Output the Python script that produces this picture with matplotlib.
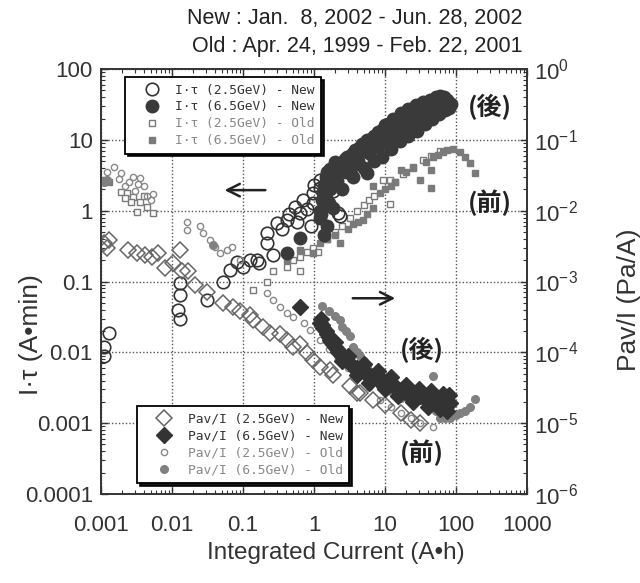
import matplotlib
matplotlib.use("Agg")
import matplotlib.pyplot as plt

plt.rcParams['font.family'] = ['Liberation Sans', 'DejaVu Sans']
plt.rcParams['mathtext.fontset'] = 'custom'
plt.rcParams['mathtext.rm'] = 'Liberation Sans'
plt.rcParams['mathtext.it'] = 'Liberation Sans:italic'

# ---- data (I*tau on left axis, Pav/I on right axis) ----
# I*tau (2.5GeV) - New, open circles
it25_new_x = [0.0011, 0.0011, 0.0013, 0.013, 0.013, 0.012, 0.013, 0.031, 0.052, 0.065, 0.082, 0.1,
              0.125, 0.157, 0.17, 0.22, 0.22, 0.26, 0.30, 0.41, 0.54, 0.57, 0.64, 0.7, 0.8, 0.97,
              0.97, 1.2, 1.2, 1.68, 1.85, 2.2, 2.3, 1.5, 2.0, 2.6, 1.0, 0.45, 0.35, 0.9, 1.4]
it25_new_y = [0.009, 0.012, 0.019, 0.095, 0.065, 0.04, 0.03, 0.055, 0.098, 0.145, 0.19, 0.16,
              0.2, 0.2, 0.18, 0.48, 0.35, 0.24, 0.67, 0.73, 1.12, 0.7, 0.93, 1.4, 1.05, 1.3,
              1.77, 2.1, 2.7, 2.45, 1.9, 0.93, 0.85, 3.2, 3.5, 4.0, 2.3, 0.9, 0.55, 0.6, 1.6]

# I*tau (6.5GeV) - New, filled circles (dense band)
it65_new_x = [0.41, 0.64, 1.2, 1.5, 1.2, 1.3, 1.35, 1.4, 1.5, 1.6, 1.8, 2.0, 2.3, 2.6, 3.0, 3.5,
              4.0, 4.5, 5.0, 5.6, 6.5, 7.5, 8.5, 10, 11.5, 13, 15, 17, 20, 23, 27, 31, 36, 42,
              48, 55, 62, 70, 78, 85,
              1.5, 2.0, 2.9, 3.5, 4.5, 6, 8, 10, 13, 16.5, 21, 27, 34, 43, 52, 60, 68,
              1.6, 1.85, 2.5, 3.5, 5, 7, 9, 12, 16, 21, 28, 36, 46, 58, 70, 80,
              1.45, 1.7, 2.2, 2.7, 3.2, 3.8, 4.8, 5.5, 7, 9, 11, 14, 18, 24, 30, 38, 46, 56, 65, 75,
              1.25, 1.45, 1.7, 2.1, 2.8, 3.3, 4.2, 6, 8, 11, 14, 18, 24, 32, 40, 50, 62, 75,
              5.6, 1.4]
it65_new_y = [0.25, 0.41, 0.8, 0.6, 1.0, 1.4, 1.8, 2.3, 2.7, 3.0, 3.4, 3.8, 4.2, 4.6, 5.2, 5.8,
              6.4, 7.0, 7.6, 8.3, 9.2, 10.2, 11, 12.5, 14, 15.5, 17, 18.5, 20.5, 22, 24, 25.5,
              27, 29, 30.5, 32, 33, 34, 34, 32,
              3.5, 4.8, 5.7, 6.5, 8, 10, 13, 16, 20, 24, 27, 31, 34, 37, 40, 41, 40,
              1.3, 1.1, 2.0, 3.0, 4.0, 5.0, 5.8, 7.5, 9.5, 11.5, 13.5, 17, 20, 23, 26, 28,
              3.0, 3.9, 4.6, 5.4, 6.0, 7.2, 8.8, 9.8, 11.5, 14, 16.5, 19, 22, 26, 29, 32, 35, 37, 38, 37,
              0.9, 1.5, 2.0, 2.6, 3.5, 4.0, 5.0, 6.5, 7.8, 9.5, 11.5, 13.5, 16, 19, 22, 25, 28, 29,
              3.4, 0.45]

# I*tau (2.5GeV) - Old, small open squares
it25_old_x = [0.0019, 0.0023, 0.0028, 0.0026, 0.0035, 0.0044, 0.0032, 0.0054, 0.0022, 0.004,
              0.14, 0.22, 0.26, 0.41, 0.5, 0.64, 0.64, 0.8, 0.97, 1.15, 1.5, 2.0, 2.5, 3.2, 4,
              5, 6, 7, 9.3, 11.6, 11.6, 14, 18, 25, 34, 45, 60]
it25_old_y = [1.83, 1.78, 1.56, 1.33, 1.33, 1.13, 0.96, 0.93, 1.5, 1.6,
              0.077, 0.1, 0.14, 0.16, 0.2, 0.22, 0.14, 0.26, 0.3, 0.26, 0.4, 0.5, 0.6, 0.8, 1.0,
              1.2, 1.4, 1.6, 2.7, 1.26, 2.7, 2.5, 3.3, 4.2, 5.2, 6.0, 7.0]

# I*tau (6.5GeV) - Old, small filled squares
it65_old_x = [0.0011, 0.0012, 0.0013, 0.41, 0.64, 0.97, 1.2, 1.5, 2.0, 2.3, 3.0, 3.5, 4.2, 4.9,
              5.5, 6.8, 6.8, 8.5, 10, 12, 14, 16.5, 20, 25, 31, 38, 45, 45, 47, 55, 65, 75, 90,
              114, 135, 157, 184]
it65_old_y = [2.7, 2.6, 2.5, 0.2, 0.28, 0.25, 0.35, 0.4, 0.45, 0.35, 0.55, 0.65, 0.7, 0.74,
              0.9, 1.1, 2.2, 1.8, 2.0, 2.2, 2.5, 3.7, 3.5, 4.0, 2.7, 4.8, 3.7, 2.1, 5.7, 6.2,
              6.8, 7.2, 7.4, 6.7, 5.8, 4.7, 3.4]

# Pav/I (2.5GeV) - New, open diamonds (Pa/A)
pav25_new_x = [0.0011, 0.0012, 0.0013, 0.0024, 0.0032, 0.0042, 0.0052, 0.0063, 0.008, 0.0103,
               0.013, 0.014, 0.017, 0.021, 0.031, 0.052, 0.072, 0.09, 0.125, 0.14, 0.19, 0.24,
               0.33, 0.41, 0.51, 0.64, 0.8, 0.97, 1.2, 1.68, 1.85, 3.2, 4.0, 4.5, 6.8, 10,
               16.5, 23, 31]
pav25_new_y = [3.5e-3, 3.0e-3, 3.8e-3, 2.8e-3, 2.5e-3, 2.4e-3, 2.2e-3, 2.5e-3, 1.55e-3, 1.8e-3,
               2.8e-3, 1.4e-3, 1.4e-3, 9e-4, 7e-4, 5e-4, 4.4e-4, 3.8e-4, 3.4e-4, 2.9e-4, 2.3e-4,
               1.9e-4, 1.8e-4, 1.5e-4, 1.2e-4, 1.3e-4, 9.8e-5, 7.8e-5, 6.3e-5, 5.7e-5, 4.8e-5,
               3.3e-5, 2.7e-5, 2.7e-5, 2.1e-5, 1.8e-5, 1.38e-5, 1.1e-5, 1.0e-5]

# Pav/I (6.5GeV) - New, filled diamonds (dense band)
pav65_new_x = [0.64, 1.2, 1.25, 1.35, 1.5, 1.65, 1.85, 2.1, 2.3, 2.8, 3.5, 4.5, 5.6, 7, 8.5,
               10.6, 13, 16.5, 20, 25, 31, 40, 50, 60, 70, 82,
               2.0, 3, 5, 8, 12, 20, 30, 45, 65, 80,
               2.5, 4, 6, 10, 15, 25, 40, 60, 75,
               1.3, 1.45, 1.6, 1.75, 2.0, 2.2, 2.5, 3.2, 4, 5, 6.2, 7.7, 9.5, 11.5, 14.5, 18,
               22, 28, 35, 45, 55, 65, 75]
pav65_new_y = [4.4e-4, 2.6e-4, 3.0e-4, 2.2e-4, 1.8e-4, 1.5e-4, 1.3e-4, 1.1e-4, 9.8e-5, 8e-5,
               6.3e-5, 5.5e-5, 5e-5, 4.5e-5, 4e-5, 4e-5, 3.4e-5, 2.9e-5, 2.7e-5, 2.5e-5,
               2.4e-5, 2.2e-5, 2.2e-5, 2.1e-5, 2.0e-5, 1.9e-5,
               1.4e-4, 9e-5, 6.8e-5, 5.5e-5, 4.5e-5, 3.5e-5, 3.0e-5, 2.8e-5, 2.6e-5, 2.5e-5,
               7.5e-5, 4.8e-5, 3.7e-5, 3.0e-5, 2.4e-5, 2.0e-5, 1.7e-5, 1.6e-5, 1.5e-5,
               2.4e-4, 2.0e-4, 1.65e-4, 1.4e-4, 1.2e-4, 1.0e-4, 8.8e-5, 7e-5, 6e-5, 5.2e-5,
               4.7e-5, 4.2e-5, 3.8e-5, 3.6e-5, 3.1e-5, 2.8e-5, 2.6e-5, 2.45e-5, 2.3e-5,
               2.15e-5, 2.05e-5, 2.0e-5, 1.95e-5]

# Pav/I (2.5GeV) - Old, small open circles
pav25_old_x = [0.0012, 0.0015, 0.0019, 0.0028, 0.0035, 0.0025, 0.0022, 0.003, 0.004, 0.0045,
               0.005, 0.0054, 0.0018, 0.0033,
               0.016, 0.016, 0.025, 0.027, 0.034, 0.04, 0.047, 0.06, 0.07, 0.09,
               0.22, 0.26, 0.33, 0.41, 0.51, 0.73, 0.88, 1.2, 1.6, 2.2, 3, 4.2, 6, 8.5, 12,
               16.5, 23, 31, 47]
pav25_old_y = [3.5e-2, 4.1e-2, 3.4e-2, 3.0e-2, 2.9e-2, 2.5e-2, 2.2e-2, 1.9e-2, 2.2e-2, 1.6e-2,
               1.4e-2, 1.7e-2, 2.8e-2, 2.4e-2,
               7e-3, 5.3e-3, 6e-3, 4.8e-3, 3.9e-3, 3.1e-3, 2.5e-3, 2.8e-3, 3.1e-3, 2.0e-3,
               6.8e-4, 5.5e-4, 4.4e-4, 3.6e-4, 3.2e-4, 2.6e-4, 2.1e-4, 1.5e-4, 1.1e-4, 8e-5,
               6e-5, 4.5e-5, 3.2e-5, 2.1e-5, 1.7e-5, 1.4e-5, 1.2e-5, 1.0e-5, 8.9e-6]

# Pav/I (6.5GeV) - Old, filled circles
pav65_old_x = [0.0010, 0.0011, 0.0012, 0.038, 1.3, 1.6, 2.0, 2.3, 2.5, 2.8, 3.2, 3.5, 4.0, 4.5,
               5.0, 5.6, 6.5, 7.5, 8.5, 10, 12, 14, 16.5, 20, 25, 31, 38, 44, 47, 52, 60, 70,
               82, 100, 114, 135, 157, 184]
pav65_old_y = [2.6e-2, 2.5e-2, 2.7e-2, 3.3e-3, 4.5e-4, 3.8e-4, 3.3e-4, 2.9e-4, 2.3e-4, 2.0e-4,
               1.7e-4, 1.2e-4, 1.0e-4, 8.8e-5, 7.5e-5, 6.3e-5, 5.2e-5, 4.2e-5, 3.3e-5, 3.0e-5,
               2.8e-5, 2.5e-5, 2.3e-5, 2.4e-5, 2.6e-5, 2.6e-5, 2.2e-5, 1.9e-5, 4.7e-5, 1.5e-5,
               1.2e-5, 1.2e-5, 1.2e-5, 1.3e-5, 1.4e-5, 1.5e-5, 1.7e-5, 2.2e-5]

x_ticks = [0.001, 0.01, 0.1, 1, 10, 100, 1000]
x_labels = ['0.001', '0.01', '0.1', '1', '10', '100', '1000']
yl_ticks = [0.0001, 0.001, 0.01, 0.1, 1, 10, 100]
yl_labels = ['0.0001', '0.001', '0.01', '0.1', '1', '10', '100']
yr_ticks = [1e-6, 1e-5, 1e-4, 1e-3, 1e-2, 1e-1, 1]
yr_labels = ['$10^{-6}$', '$10^{-5}$', '$10^{-4}$', '$10^{-3}$', '$10^{-2}$', '$10^{-1}$', '$10^{0}$']

dark = '#333333'
gray = '#7a7a7a'
fs = 16

fig = plt.figure(figsize=(6.4, 5.83), dpi=100)
ax = fig.add_axes([0.158, 0.1527, 0.6656, 0.7289])
ax2 = ax.twinx()

ax.set_xscale('log')
ax.set_yscale('log')
ax2.set_yscale('log')
ax.set_xlim(0.001, 1000)
ax.set_ylim(0.0001, 100)
ax2.set_ylim(1e-6, 1)

ax.grid(True, which='major', ls=(0, (1, 1.5)), color='#555555', lw=1.0)
ax.set_axisbelow(True)

# left axis series
h1, = ax.plot(it25_old_x, it25_old_y, 's', ms=4.5, mfc='white', mec=gray, mew=1.0, ls='none')
h2, = ax.plot(it65_old_x, it65_old_y, 's', ms=5, mfc=gray, mec=gray, ls='none')
h3, = ax.plot(it25_new_x, it25_new_y, 'o', ms=9, mfc='none', mec=dark, mew=1.2, ls='none')
h4, = ax.plot(it65_new_x, it65_new_y, 'o', ms=9, mfc='#3a3a3a', mec='#3a3a3a', ls='none')

# right axis series
g1, = ax2.plot(pav25_old_x, pav25_old_y, 'o', ms=4.5, mfc='none', mec='#888888', mew=1.0, ls='none')
g2, = ax2.plot(pav65_old_x, pav65_old_y, 'o', ms=5.5, mfc='#808080', mec='#808080', ls='none')
g3, = ax2.plot(pav25_new_x, pav25_new_y, 'D', ms=8, mfc='none', mec='#666666', mew=1.1, ls='none')
g4, = ax2.plot(pav65_new_x, pav65_new_y, 'D', ms=8, mfc=dark, mec=dark, ls='none')

ax.set_xticks(x_ticks, x_labels)
ax.set_yticks(yl_ticks, yl_labels)
ax2.set_yticks(yr_ticks, yr_labels)

for a in (ax, ax2):
    a.tick_params(which='major', direction='in', length=5, width=1, colors=dark, labelsize=fs)
    a.tick_params(which='minor', direction='in', length=3, width=0.8, colors=dark)
    for s in a.spines.values():
        s.set_color(dark)
        s.set_linewidth(1.2)
ax.tick_params(which='both', top=True, right=False, pad=6)
ax.tick_params(axis='x', pad=15)
ax2.tick_params(which='both', pad=5)

ax.set_xlabel('Integrated Current (A•h)', fontsize=17.5, color=dark)
ax.xaxis.set_label_coords(0.552, -0.113)
ax.set_ylabel('I·τ (A•min)', fontsize=19, color=dark)
ax.yaxis.set_label_coords(-0.137, 0.374)
ax2.set_ylabel('Pav/I (Pa/A)', fontsize=19, color=dark)
ax2.yaxis.set_label_coords(1.21, 0.456)

fig.text(0.816, 0.969, 'New : Jan.  8, 2002 - Jun. 28, 2002', fontsize=15.5, ha='right', va='center', color='#222222')
fig.text(0.816, 0.921, 'Old : Apr. 24, 1999 - Feb. 22, 2001', fontsize=15.5, ha='right', va='center', color='#222222')

# arrows
arrow = dict(arrowstyle='->,head_length=0.9,head_width=0.45', lw=1.8, color='#222222')
ax.annotate('', xy=(0.05, 1.95), xytext=(0.225, 1.95), arrowprops=arrow)
ax.annotate('', xy=(15.2, 0.058), xytext=(3.2, 0.058), arrowprops=arrow)

# before / after labels
jp = dict(transform=ax.transAxes, fontsize=18, ha='center', va='center', fontweight='bold',
          family=['Noto Sans CJK JP', 'DejaVu Sans'], color='#222222')
ax.text(0.913, 0.91, '(後)', **jp)
ax.text(0.913, 0.685, '(前)', **jp)
ax.text(0.753, 0.339, '(後)', **jp)
ax.text(0.753, 0.096, '(前)', **jp)

legkw = dict(prop={'family': 'DejaVu Sans Mono', 'size': 9.3}, frameon=True, fancybox=False,
             shadow={'color': 'black', 'alpha': 0.9}, borderaxespad=0, borderpad=0.5,
             handlelength=3.2, handletextpad=0.2, labelspacing=0.3, framealpha=1)
leg1 = ax2.legend([h3, h4, h1, h2],
                  ['I·τ (2.5GeV) - New', 'I·τ (6.5GeV) - New', 'I·τ (2.5GeV) - Old', 'I·τ (6.5GeV) - Old'],
                  loc='upper left', bbox_to_anchor=(0.056, 0.981), **legkw)
leg1.get_frame().set_edgecolor('black')
leg1.get_frame().set_linewidth(1.3)
for t, c in zip(leg1.get_texts(), [dark, dark, '#888888', '#888888']):
    t.set_color(c)
ax2.add_artist(leg1)
leg2 = ax2.legend([g3, g4, g1, g2],
                  ['Pav/I (2.5GeV) - New', 'Pav/I (6.5GeV) - New', 'Pav/I (2.5GeV) - Old', 'Pav/I (6.5GeV) - Old'],
                  loc='lower left', bbox_to_anchor=(0.085, 0.026), **legkw)
leg2.get_frame().set_edgecolor('black')
leg2.get_frame().set_linewidth(1.3)
for t, c in zip(leg2.get_texts(), [dark, dark, '#888888', '#888888']):
    t.set_color(c)

fig.savefig('out.png', dpi=100, facecolor='white')
